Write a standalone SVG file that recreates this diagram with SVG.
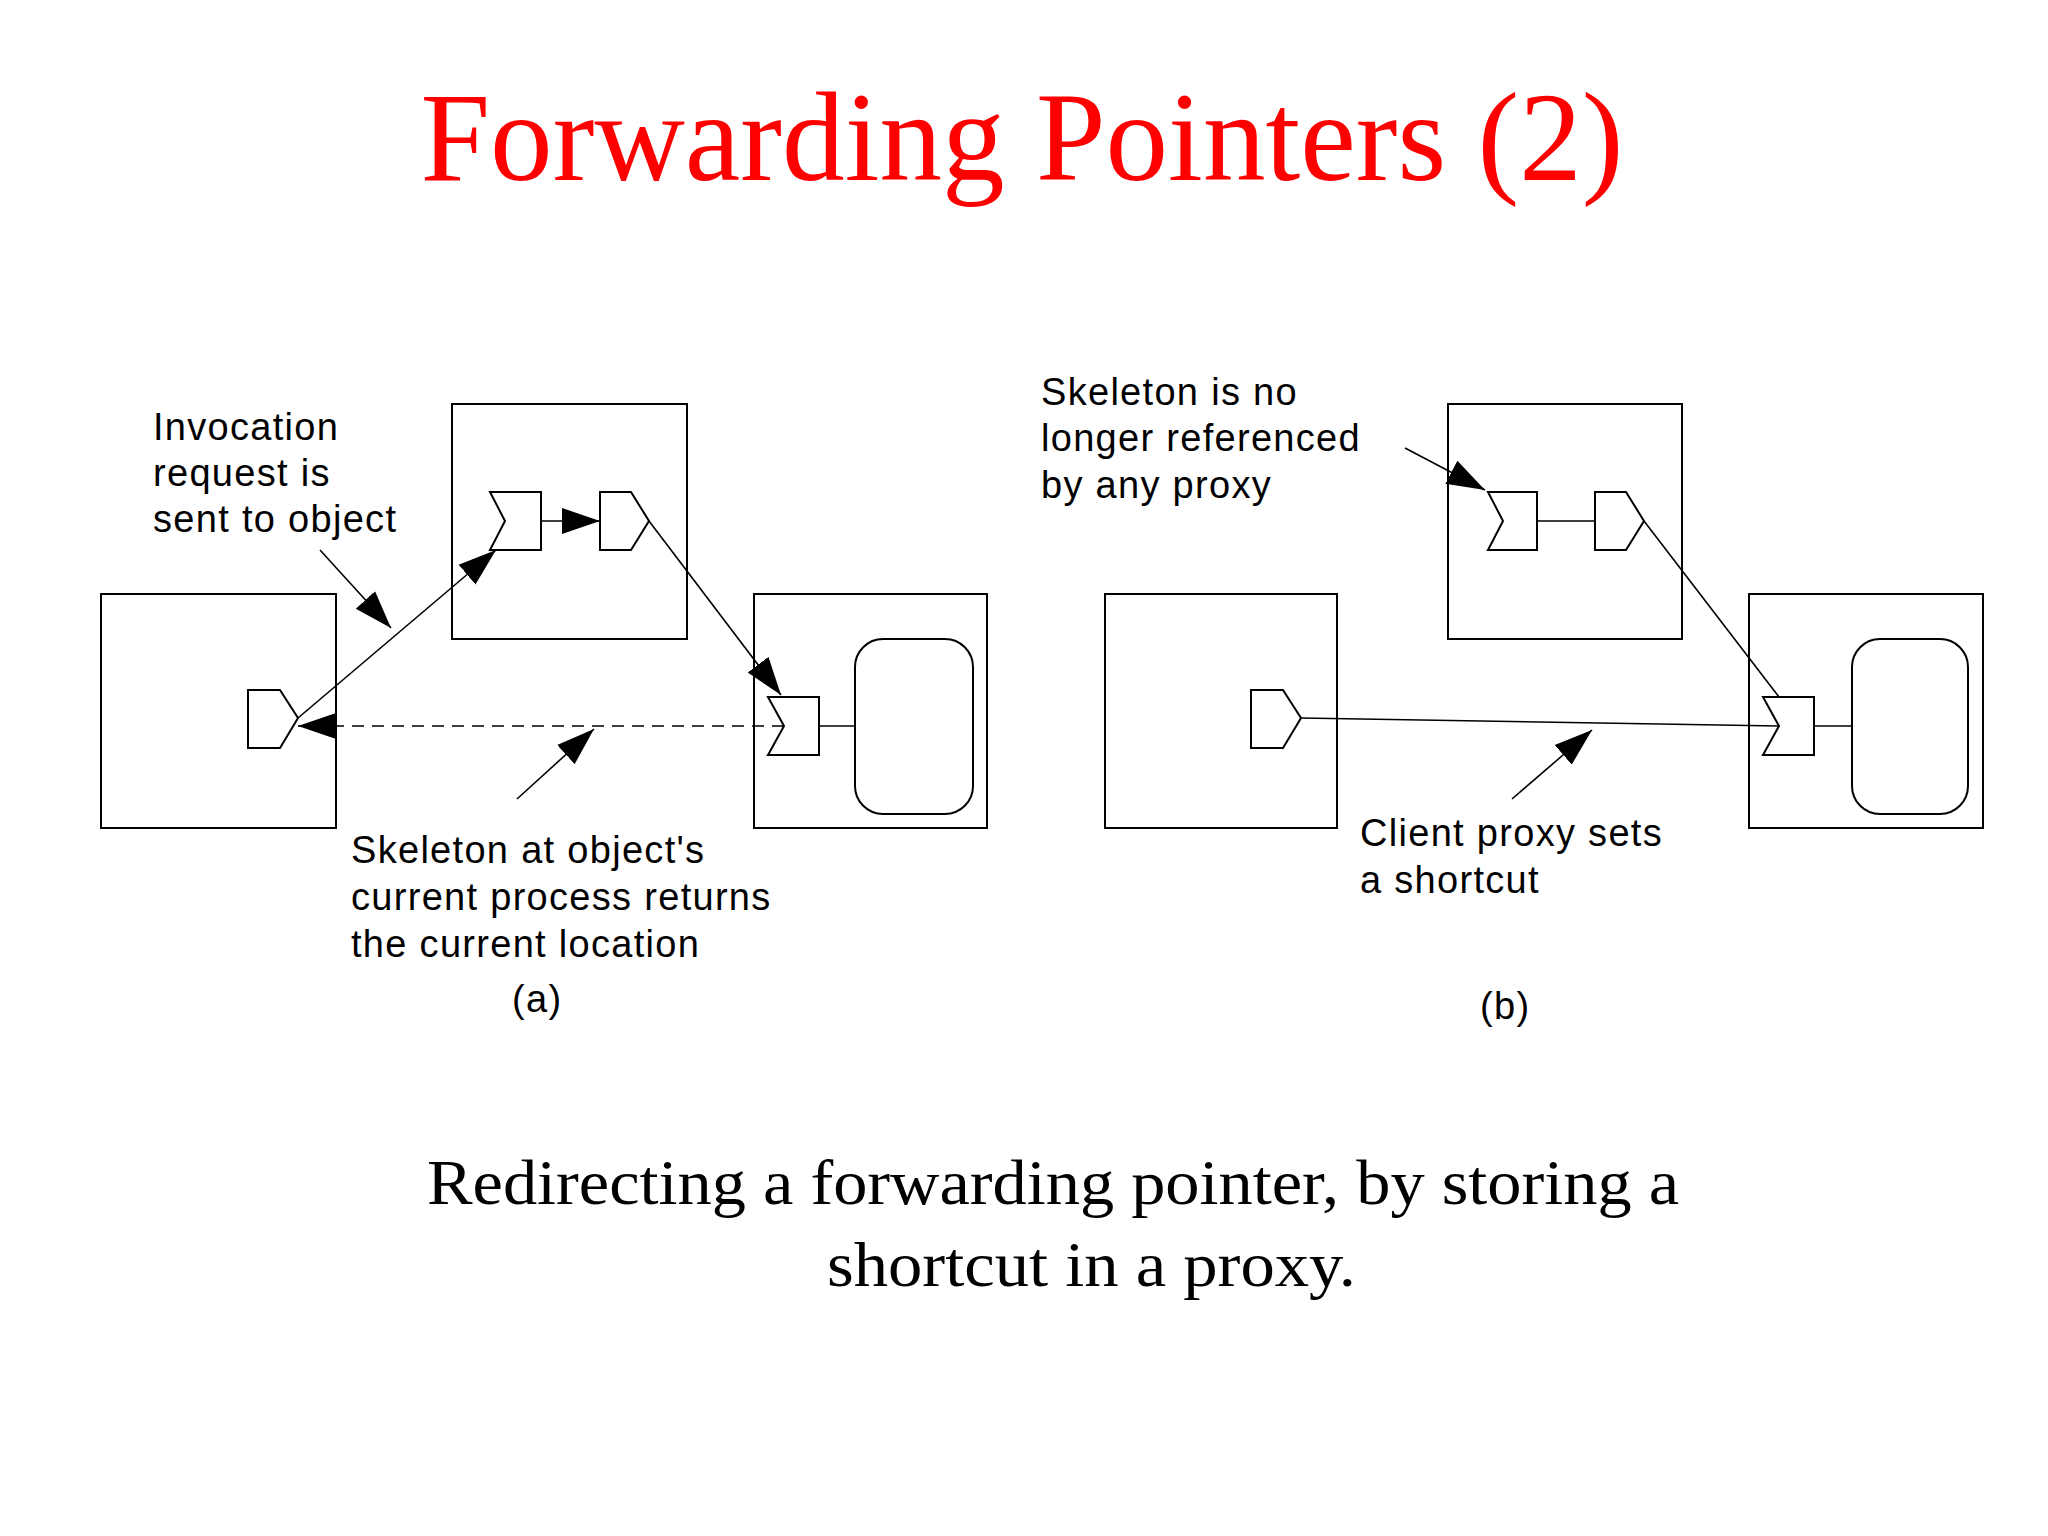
<svg xmlns="http://www.w3.org/2000/svg" width="2048" height="1536" viewBox="0 0 2048 1536">
<style>
.box{fill:none;stroke:#000;stroke-width:2}
.sh{fill:#fff;stroke:#000;stroke-width:2}
.ln{fill:none;stroke:#000;stroke-width:1.6}
.lbl{font-family:"Liberation Sans",Arial,sans-serif;font-size:38px;letter-spacing:1.3px;fill:#000}
.cap{font-family:"Liberation Serif","Times New Roman",serif;font-size:64px;fill:#000}
</style>
<defs>
<marker id="ah" markerUnits="userSpaceOnUse" markerWidth="40" markerHeight="30" viewBox="0 0 40 30" refX="38" refY="15" orient="auto">
<path d="M0,2 L38,15 L0,28 Z" fill="#000"/>
</marker>
</defs>
<rect width="2048" height="1536" fill="#fff"/>
<text x="1022" y="180" text-anchor="middle" font-family="Liberation Serif,serif" font-size="128" fill="#ff0000" textLength="1203" lengthAdjust="spacingAndGlyphs">Forwarding Pointers (2)</text>

<g id="a-boxA"><rect class="box" x="101" y="594" width="235" height="234"/><polygon class="sh" points="248,690 280,690 298,718 280,748 248,748"/></g>
<g id="a-boxB"><rect class="box" x="452" y="404" width="235" height="235"/>
<polygon class="sh" points="490,492 541,492 541,550 490,550 505,521"/>
<polygon class="sh" points="600,492 631,492 649,521 631,550 600,550"/></g>
<g id="a-boxC"><rect class="box" x="754" y="594" width="233" height="234"/>
<polygon class="sh" points="768,697 819,697 819,755 768,755 784,726"/>
<rect class="sh" x="855" y="639" width="118" height="175" rx="28"/></g>

<g id="b-boxB"><rect class="box" x="1448" y="404" width="234" height="235"/>
<polygon class="sh" points="1488,492 1537,492 1537,550 1488,550 1503,521"/>
<polygon class="sh" points="1595,492 1626,492 1644,521 1626,550 1595,550"/></g>
<g id="b-boxA"><rect class="box" x="1105" y="594" width="232" height="234"/>
<polygon class="sh" points="1251,690 1283,690 1301,718 1283,748 1251,748"/></g>
<g id="b-boxC"><rect class="box" x="1749" y="594" width="234" height="234"/>
<polygon class="sh" points="1763,697 1814,697 1814,755 1763,755 1779,726"/>
<rect class="sh" x="1852" y="639" width="116" height="175" rx="28"/></g>

<g id="connectors">
<line class="ln" x1="541" y1="521" x2="600" y2="521" stroke-width="2.5" marker-end="url(#ah)"/>
<line class="ln" x1="298" y1="718" x2="496" y2="550" marker-end="url(#ah)"/>
<line class="ln" x1="649" y1="521" x2="781" y2="695" marker-end="url(#ah)"/>
<line class="ln" x1="784" y1="726" x2="298" y2="726" stroke-width="2" stroke-dasharray="12,8" marker-end="url(#ah)"/>
<line class="ln" x1="819" y1="726" x2="855" y2="726" stroke-width="2.5"/>
<line class="ln" x1="320" y1="550" x2="391" y2="628" marker-end="url(#ah)"/>
<line class="ln" x1="517" y1="799" x2="594" y2="729" marker-end="url(#ah)"/>

<line class="ln" x1="1537" y1="521" x2="1595" y2="521" stroke-width="2.5"/>
<line class="ln" x1="1644" y1="521" x2="1779" y2="697"/>
<line class="ln" x1="1301" y1="718" x2="1779" y2="726" stroke-width="2"/>
<line class="ln" x1="1814" y1="726" x2="1852" y2="726" stroke-width="2.5"/>
<line class="ln" x1="1405" y1="448" x2="1485" y2="490" marker-end="url(#ah)"/>
<line class="ln" x1="1512" y1="799" x2="1592" y2="730" marker-end="url(#ah)"/>
</g>

<text class="lbl"><tspan x="153" y="440">Invocation</tspan><tspan x="153" y="486">request is</tspan><tspan x="153" y="532">sent to object</tspan></text>
<text class="lbl"><tspan x="351" y="863">Skeleton at object's</tspan><tspan x="351" y="910">current process returns</tspan><tspan x="351" y="957">the current location</tspan></text>
<text class="lbl" x="512" y="1012">(a)</text>
<text class="lbl"><tspan x="1041" y="405">Skeleton is no</tspan><tspan x="1041" y="451">longer referenced</tspan><tspan x="1041" y="498">by any proxy</tspan></text>
<text class="lbl"><tspan x="1360" y="846">Client proxy sets</tspan><tspan x="1360" y="893">a shortcut</tspan></text>
<text class="lbl" x="1480" y="1019">(b)</text>

<text class="cap" x="427" y="1204" textLength="1252" lengthAdjust="spacingAndGlyphs">Redirecting a forwarding pointer, by storing a</text>
<text class="cap" x="827" y="1286" textLength="529" lengthAdjust="spacingAndGlyphs">shortcut in a proxy.</text>
</svg>
